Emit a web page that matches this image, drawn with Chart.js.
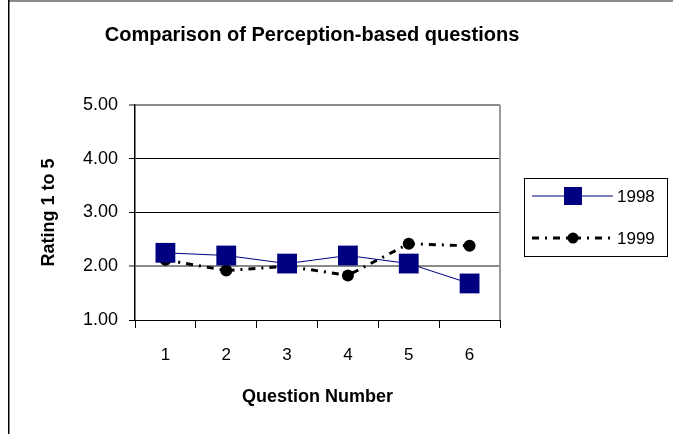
<!DOCTYPE html>
<html>
<head>
<meta charset="utf-8">
<script src="https://cdn.jsdelivr.net/npm/chart.js@4/dist/chart.umd.min.js"></script>
<style>
    html, body { margin: 0; padding: 0; background: #fff; }
    #wrap { width: 673px; height: 434px; }
</style>
</head>
<body>
<div id="wrap"><canvas id="chart-perception"></canvas></div>
<script>
const questions = ["1", "2", "3", "4", "5", "6"];
const ratings1998 = [2.25, 2.2, 2.05, 2.2, 2.05, 1.68];
const ratings1999 = [2.12, 1.92, 2.0, 1.83, 2.42, 2.38];
const seriesNames = ["1998", "1999"];
const chartTitle = "Comparison of Perception-based questions";

const FONT = "'Liberation Sans', Arial, sans-serif";

// white page, outer frame, title, right edge of plot area, legend box
const framePlugin = {
    id: "frame",
    beforeDraw(chart) {
        const ctx = chart.ctx;
        ctx.save();
        ctx.fillStyle = "#fff";
        ctx.fillRect(0, 0, chart.width, chart.height);
        ctx.fillStyle = "#8a8a8a";
        ctx.fillRect(8, 0, chart.width - 8, 2);
        ctx.fillStyle = "#000";
        ctx.fillRect(8, 0, 1.5, chart.height);

        // title is wider than the plot, so it is drawn here
        ctx.font = "bold 20px " + FONT;
        ctx.textAlign = "center";
        ctx.textBaseline = "middle";
        ctx.fillText(chartTitle, 312, 35);
        ctx.restore();
    },
    afterDraw(chart) {
        const ctx = chart.ctx;
        const area = chart.chartArea;
        ctx.save();
        ctx.strokeStyle = "#9a9a9a";
        ctx.lineWidth = 2;
        ctx.beginPath();
        ctx.moveTo(area.right, area.top);
        ctx.lineTo(area.right, area.bottom);
        ctx.stroke();

        // legend
        ctx.strokeStyle = "#000";
        ctx.lineWidth = 1;
        ctx.strokeRect(524.5, 178.5, 143, 78);
        chart.data.datasets.forEach((ds, i) => {
            const y = 196 + i * 42;
            ctx.save();
            ctx.strokeStyle = ds.borderColor;
            ctx.lineWidth = ds.borderWidth;
            ctx.setLineDash(ds.borderDash || []);
            ctx.beginPath();
            ctx.moveTo(532, y);
            ctx.lineTo(613, y);
            ctx.stroke();
            ctx.restore();
            ctx.fillStyle = ds.pointBackgroundColor;
            if (ds.pointStyle === "rect") {
                ctx.fillRect(573 - 9, y - 9, 18, 18);
            } else {
                ctx.beginPath();
                ctx.arc(573, y, 5.5, 0, Math.PI * 2);
                ctx.fill();
            }
            ctx.fillStyle = "#000";
            ctx.font = "17px " + FONT;
            ctx.textBaseline = "middle";
            ctx.fillText(ds.label, 617, y + 1);
        });
        ctx.restore();
    },
};

const chartPerception = new Chart(document.getElementById("chart-perception"), {
    type: "line",
    data: {
        labels: questions,
        datasets: [
            {
                label: seriesNames[0],
                data: ratings1998,
                borderColor: "#000080",
                borderWidth: 1,
                pointStyle: "rect",
                pointRadius: 14,
                pointBackgroundColor: "#000080",
                pointBorderColor: "#000080",
                pointBorderWidth: 0,
                tension: 0,
            },
            {
                label: seriesNames[1],
                data: ratings1999,
                borderColor: "#000",
                borderWidth: 3,
                borderDash: [7, 6, 2, 6],
                pointStyle: "circle",
                pointRadius: 6,
                pointBackgroundColor: "#000",
                pointBorderColor: "#000",
                pointBorderWidth: 0,
                tension: 0,
            },
        ],
    },
    options: {
        responsive: true,
        maintainAspectRatio: false,
        animation: false,
        layout: {
            padding: { left: 38, right: 173, top: 105, bottom: 0 },
        },
        plugins: {
            legend: { display: false },
            tooltip: { enabled: false },
            title: { display: false },
        },
        scales: {
            x: {
                offset: true,
                afterFit: (scale) => { scale.height = 114; },
                grid: {
                    offset: true,
                    drawOnChartArea: false,
                    tickLength: 8,
                    color: "#000",
                },
                border: { color: "#000", width: 1 },
                ticks: {
                    color: "#000",
                    padding: 17,
                    font: { family: FONT, size: 17 },
                },
                title: {
                    display: true,
                    text: "Question Number",
                    color: "#000",
                    font: { family: FONT, size: 18, weight: "bold" },
                    padding: { top: 0, bottom: 26 },
                },
            },
            y: {
                min: 1,
                max: 5,
                afterFit: (scale) => { scale.width = 97; },
                grid: {
                    color: (c) => (c.tick && (c.tick.value === 2 || c.tick.value === 5) ? "#8a8a8a" : "#000"),
                    lineWidth: (c) => (c.tick && (c.tick.value === 2 || c.tick.value === 5) ? 2 : 1),
                    tickLength: 6,
                },
                border: { color: "#000", width: 1.5 },
                ticks: {
                    stepSize: 1,
                    color: "#000",
                    padding: 11,
                    font: { family: FONT, size: 18 },
                    callback: (v) => Number(v).toFixed(2),
                },
                title: {
                    display: true,
                    text: "Rating 1 to 5",
                    color: "#000",
                    font: { family: FONT, size: 18, weight: "bold" },
                    padding: { top: 0, bottom: 0 },
                },
            },
        },
    },
    plugins: [framePlugin],
});
</script>
</body>
</html>
